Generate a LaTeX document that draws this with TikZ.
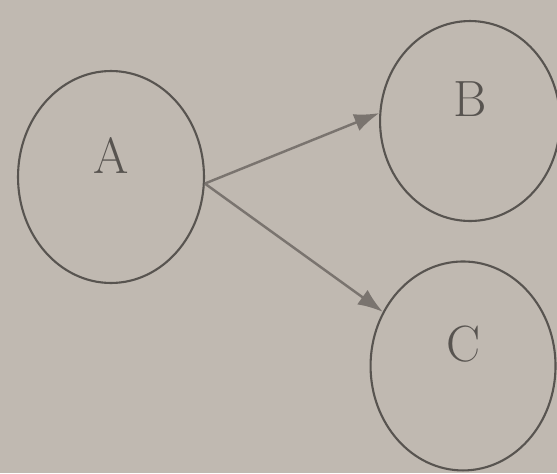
\documentclass[tikz,border=0pt]{standalone}
\usepackage{xcolor}
\usepackage{tikz}
\usetikzlibrary{shapes,arrows.meta,positioning}

\definecolor{paper}{RGB}{192,185,177}
\definecolor{ink}{RGB}{88,84,80}
\definecolor{pencil}{RGB}{122,116,111}

\begin{document}
\begin{tikzpicture}[x=0.02cm, y=-0.02cm,
    state/.style={ellipse, draw=ink, line width=1.2pt, text=ink, text depth=0.88cm, font=\fontsize{29}{34}\selectfont},
    arrow/.style={draw=pencil, line width=1.4pt, -{Latex[length=0.5cm,width=0.36cm]}}]
    \fill[paper] (0,0) rectangle (557,473);
    \useasboundingbox (0,0) rectangle (557,473);

    \node[state, minimum width=3.72cm, minimum height=4.24cm] (A) at (111,177) {A};
    \node[state, minimum width=3.6cm, minimum height=4cm, right=3.48cm of A, yshift=1.12cm] (B) {B};
    \node[state, minimum width=3.7cm, minimum height=4.18cm, right=3.29cm of A, yshift=-3.78cm] (C) {C};

    \draw[arrow] (A.-4) -- (B.175);
    \draw[arrow] (A.-4) -- (C.146);
\end{tikzpicture}
\end{document}
